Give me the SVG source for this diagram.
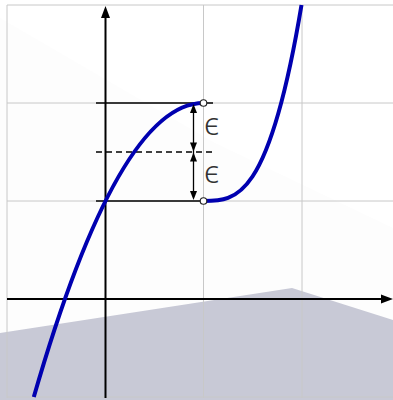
<svg xmlns="http://www.w3.org/2000/svg" width="393" height="400" viewBox="0 0 393 400">
<defs>
<style>
.grid{stroke:#c8c8c8;stroke-width:1;fill:none}
.axis{stroke:#000;stroke-width:2;fill:none}
.curve{stroke:#0000b0;stroke-width:4;fill:none;stroke-linecap:butt}
.guide{stroke:#000;stroke-width:1.3;fill:none}
.dash{stroke:#000;stroke-width:1.3;fill:none;stroke-dasharray:6 4}
.dim{stroke:#000;stroke-width:1.3;fill:none}
.head{fill:#000}
.pt{fill:#fff;stroke:#222;stroke-width:1.1}
.lbl{font-family:"Noto Sans","DejaVu Sans",sans-serif;font-size:31px;font-weight:300;fill:#333}
</style>
</defs>
<rect x="0" y="0" width="393" height="400" fill="#fff"/>
<g id="shading">
<polygon points="0,18 213,142 393,228 393,400 0,400" fill="#fdfdfd"/>
<polygon points="0,333 292,288 393,320 393,400 0,400" fill="#c8c9d6"/>
</g>
<g id="grid">
<path class="grid" d="M7,5V398M203.5,5V398M302,5V398M7,5H393M7,103H393M7,201H393M7,397H393"/>
</g>
<g id="axes">
<line class="axis" x1="105.5" y1="398" x2="105.5" y2="16"/>
<polygon class="head" points="105.5,6 101,18 110,18"/>
<line class="axis" x1="7" y1="299" x2="383" y2="299"/>
<polygon class="head" points="393,299 381,294.5 381,303.5"/>
</g>
<g id="guides">
<line class="guide" x1="96" y1="103" x2="213" y2="103"/>
<line class="guide" x1="96" y1="201" x2="203.5" y2="201"/>
<line class="dash" x1="96" y1="152" x2="214" y2="152"/>
</g>
<g id="curve">
<path class="curve" d="M33.8,397 Q118.6,103 203.5,103"/>
<path class="curve" d="M203.5,201 C236.2,201 268.8,201 301.5,5"/>
</g>
<g id="dimension">
<line class="dim" x1="193.5" y1="108" x2="193.5" y2="196"/>
<polygon class="head" points="193.5,104 190,113 197,113"/>
<polygon class="head" points="193.5,151.5 190,142.5 197,142.5"/>
<polygon class="head" points="193.5,152.5 190,161.5 197,161.5"/>
<polygon class="head" points="193.5,200 190,191 197,191"/>
<text class="lbl" x="204" y="135">ϵ</text>
<text class="lbl" x="204" y="183">ϵ</text>
</g>
<g id="points">
<circle class="pt" cx="203.5" cy="103" r="3.3"/>
<circle class="pt" cx="203.5" cy="201" r="3.3"/>
</g>
</svg>
